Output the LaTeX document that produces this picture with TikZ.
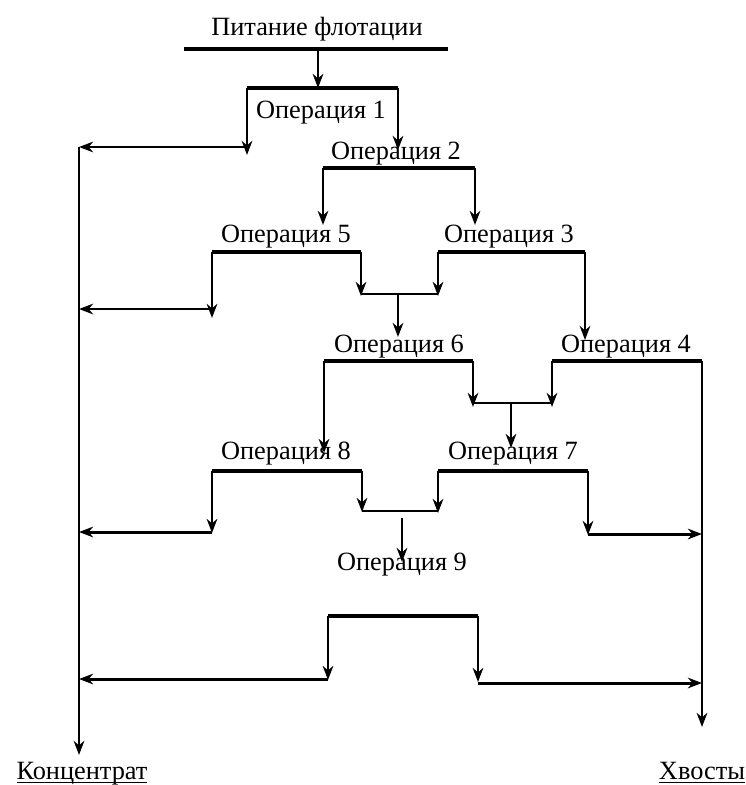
\documentclass[tikz,border=0pt]{standalone}
\usepackage{fontspec}
\setmainfont{Liberation Serif}
\usetikzlibrary{arrows.meta}
\newcommand\ulword[1]{\setbox0\hbox{#1}\rlap{\rule[-2.5pt]{\wd0}{0.8pt}}\box0}

\begin{document}
\begin{tikzpicture}[
    x=0.02cm, y=-0.02cm,
    every node/.style={inner sep=0pt, anchor=base, font=\fontsize{15}{18}\selectfont},
    opbar/.style={line width=2.6pt},
    stream/.style={->, line width=1.7pt},
    mergeline/.style={line width=0.8pt},
    >={Stealth[length=8pt, width=6pt, inset=2.5pt]}
]
    \useasboundingbox (0,0) rectangle (746,785);

    \node (feed) at (317,35) {Питание флотации};
    \node (op1) at (321,118) {Операция 1};
    \node (op2) at (396,159) {Операция 2};
    \node (op5) at (286,242) {Операция 5};
    \node (op3) at (509,242) {Операция 3};
    \node (op6) at (399,352) {Операция 6};
    \node (op4) at (626,352) {Операция 4};
    \node (op8) at (286,459) {Операция 8};
    \node (op7) at (513,459) {Операция 7};
    \node (op9) at (402,570) {Операция 9};
    \node (conc) at (82,779) {\ulword{Концентрат}};
    \node (tail) at (702,779) {\ulword{Хвосты}};

    % operation bars: number/left/right/level
    \foreach \n/\l/\r/\y in {1/247/398/88, 2/323/475/168, 3/438/585/252, 4/552/702/361,
        5/212/361/252, 6/324/473/361, 7/438/588/471, 8/212/362/471, 10/328/478/616} {
        \coordinate (l\n) at (\l,\y);
        \coordinate (r\n) at (\r,\y);
        \draw[opbar] (l\n) -- (r\n);
    }

    % feed
    \coordinate (fl) at (184,49);
    \coordinate (fr) at (448,49);
    \coordinate (f) at (318,49);
    \draw[opbar] (fl) -- (fr);
    \draw[stream] (f) -- (f |- l1);

    % collecting lines
    \coordinate (ctop) at (79,147);
    \coordinate (cbot) at (79,755);
    \coordinate (tbot) at (702,727);
    \draw[stream] (ctop) -- (cbot);
    \draw[stream] (r4) -- (tbot);

    % legs
    \coordinate (e1l) at (247,155);
    \coordinate (e1r) at (398,150);
    \coordinate (e2l) at (323,225);
    \coordinate (e2r) at (475,225);
    \coordinate (e5l) at (212,318);
    \coordinate (e5r) at (361,296);
    \coordinate (e3l) at (438,296);
    \coordinate (e3r) at (585,340);
    \coordinate (e6l) at (324,453);
    \coordinate (e6r) at (473,407);
    \coordinate (e4l) at (552,407);
    \coordinate (e8l) at (212,533);
    \coordinate (e8r) at (362,512);
    \coordinate (e7l) at (438,513);
    \coordinate (e7r) at (588,535);
    \coordinate (e10l) at (328,680);
    \coordinate (e10r) at (478,682);
    \foreach \a/\b in {l1/e1l, r1/e1r, l2/e2l, r2/e2r, l5/e5l, r5/e5r, l3/e3l, r3/e3r,
        l6/e6l, r6/e6r, l4/e4l, l8/e8l, r8/e8r, l7/e7l, r7/e7r, l10/e10l, r10/e10r}
        \draw[stream] (\a) -- (\b);

    % to concentrate and tailings
    \coordinate (c5) at (79,309);
    \coordinate (c8) at (79,532);
    \coordinate (c10) at (79,679);
    \coordinate (t7) at (702,534);
    \coordinate (t10) at (702,683);
    \draw[stream] (e1l |- ctop) -- (ctop);
    \draw[stream] (e5l |- c5) -- (c5);
    \draw[stream] (e8l |- c8) -- (c8);
    \draw[stream] (e10l |- c10) -- (c10);
    \draw[stream] (e7r |- t7) -- (t7);
    \draw[stream] (e10r |- t10) -- (t10);

    % merging of products
    \coordinate (m1) at (398,294);
    \coordinate (m2) at (511,403);
    \coordinate (m3) at (402,511);
    \coordinate (n1) at (398,337);
    \coordinate (n2) at (511,448);
    \coordinate (n3) at (402,562);
    \draw[mergeline] (r5 |- m1) -- (l3 |- m1);
    \draw[mergeline] (r6 |- m2) -- (l4 |- m2);
    \draw[mergeline] (r8 |- m3) -- (l7 |- m3);
    \draw[stream] (m1) -- (n1);
    \draw[stream] (m2) -- (n2);
    \draw[stream] ([yshift=-4]m3) -- (n3);
\end{tikzpicture}
\end{document}
